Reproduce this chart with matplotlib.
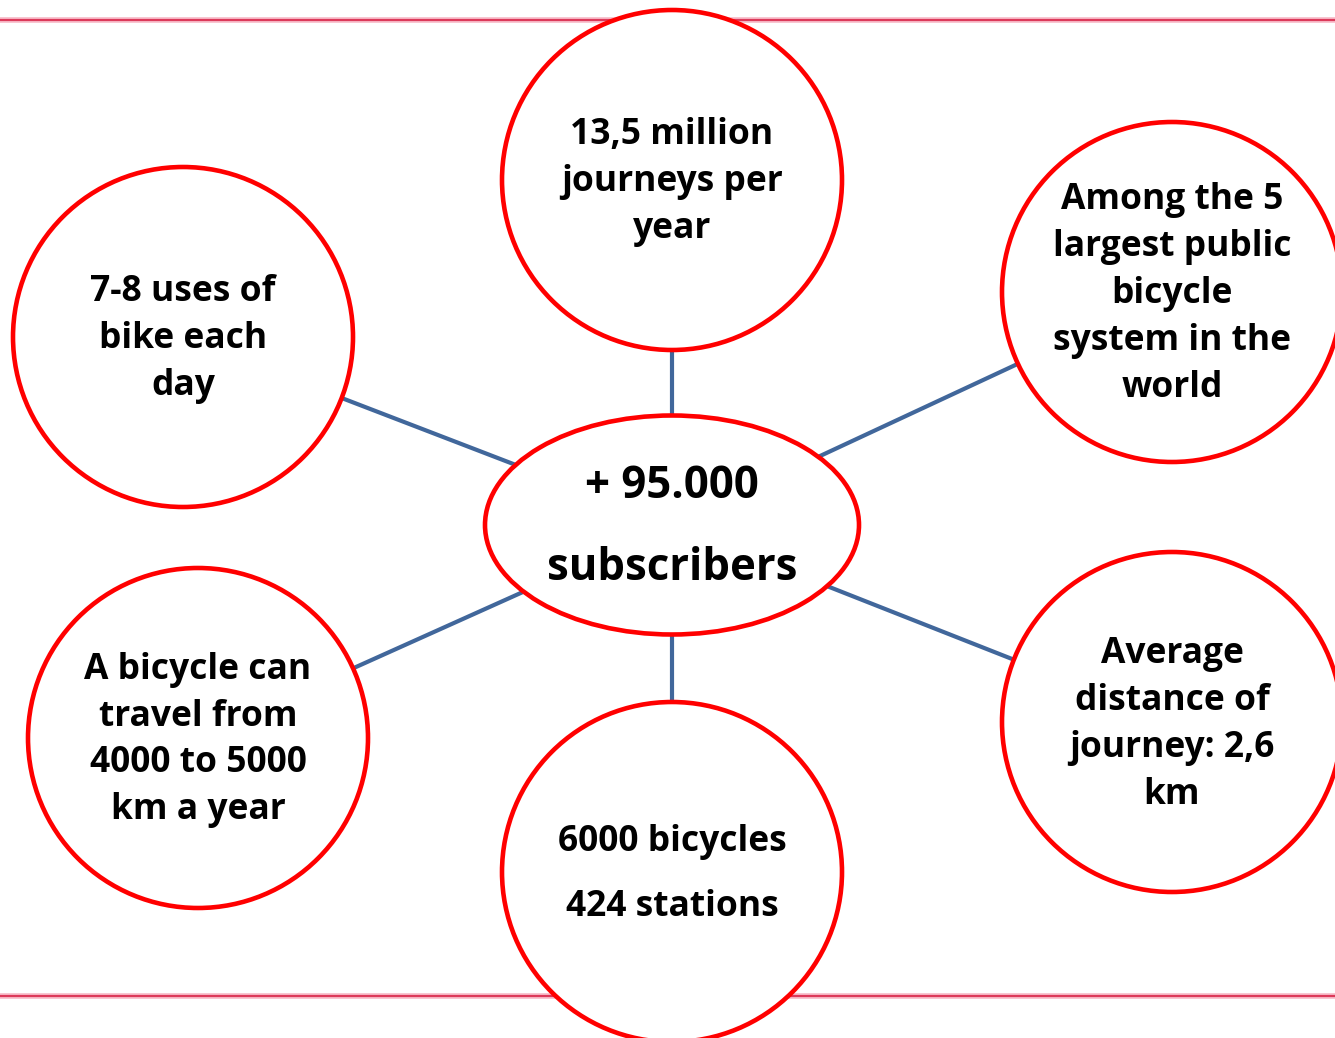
import matplotlib.pyplot as plt
from matplotlib.patches import Ellipse

# bubble labels, one list of lines per bubble
labels = [
    ["13,5 million", "journeys per", "year"],
    ["7-8 uses of", "bike each", "day"],
    ["Among the 5", "largest public", "bicycle", "system in the", "world"],
    ["A bicycle can", "travel from", "4000 to 5000", "km a year"],
    ["6000 bicycles", "424 stations"],
    ["Average", "distance of", "journey: 2,6", "km"],
]
hub_label = ["+ 95.000", "subscribers"]

# layout in pixel coordinates (y downward)
centers = [(672, 180), (183, 337), (1172, 292), (198, 738), (672, 872), (1172, 722)]
line_pitch = [47, 47, 47, 47, 65, 47]
radius = 170
hub = (672, 525)
hub_w, hub_h = 374, 219

W, H = 1335, 1038
fig = plt.figure(figsize=(W / 100, H / 100), dpi=100)
ax = fig.add_axes([0, 0, 1, 1])
ax.set_xlim(0, W)
ax.set_ylim(H, 0)
ax.axis("off")

font = dict(family=["Open Sans", "DejaVu Sans"], fontweight="bold", color="black",
            ha="center", va="center")

# thin red rules top and bottom
for y in (20, 996):
    ax.plot([0, W], [y, y], color="#f7b6c4", lw=4, zorder=0, solid_capstyle="butt")
    ax.plot([0, W], [y, y], color="#dc3a5a", lw=1.5, zorder=0.5, solid_capstyle="butt")

# connectors
for cx, cy in centers:
    ax.plot([cx, hub[0]], [cy, hub[1]], color="#41679b", lw=3, zorder=1)

# bubbles
for (cx, cy), lines, pitch in zip(centers, labels, line_pitch):
    ax.add_patch(Ellipse((cx, cy), 2 * radius, 2 * radius, facecolor="white",
                         edgecolor="#ff0000", lw=3.3, zorder=2))
    n = len(lines)
    for i, t in enumerate(lines):
        y = cy + 2 + (i - (n - 1) / 2) * pitch
        ax.text(cx, y, t, fontsize=25.5, zorder=3, **font)

ax.add_patch(Ellipse(hub, hub_w, hub_h, facecolor="white",
                     edgecolor="#ff0000", lw=3.3, zorder=2))
for i, t in enumerate(hub_label):
    ax.text(hub[0], hub[1] + 2 + (i - 0.5) * 82, t, fontsize=31.5, zorder=3, **font)

fig.savefig("out.png", dpi=100)
